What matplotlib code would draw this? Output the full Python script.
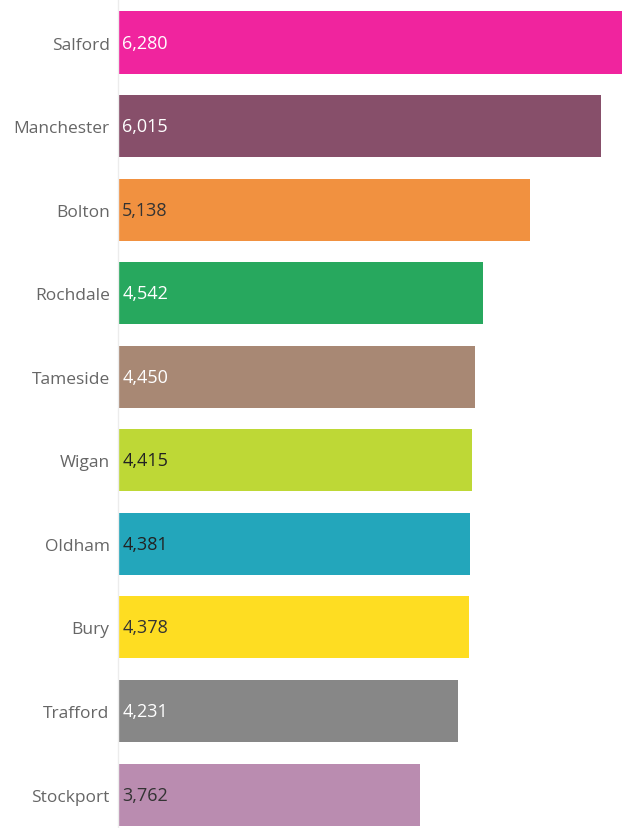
import matplotlib
matplotlib.use("Agg")
import matplotlib.pyplot as plt

categories = ["Salford", "Manchester", "Bolton", "Rochdale", "Tameside",
              "Wigan", "Oldham", "Bury", "Trafford", "Stockport"]
values = [6280, 6015, 5138, 4542, 4450, 4415, 4381, 4378, 4231, 3762]
colors = ["#F0249E", "#874F6A", "#F19140", "#27A85E", "#A88874",
          "#BED836", "#23A6BB", "#FEDD22", "#878787", "#BA8CB0"]
label_colors = ["white", "white", "#333333", "white", "white",
                "#222222", "#222222", "#333333", "white", "#333333"]

W, H = 622, 829
fig = plt.figure(figsize=(W / 100, H / 100), dpi=100)
left = 118 / W
ax = fig.add_axes([left, 0, 1 - left, 1])

pos = list(range(len(categories)))
ax.barh(pos, values, height=0.742, color=colors)

c0, step = 43.5, 83.56
ax.set_ylim((H - c0) / step, -c0 / step)
ax.set_xlim(0, max(values))

for i, (v, lc) in enumerate(zip(values, label_colors)):
    ax.annotate(f"{v:,}", xy=(0, i), xytext=(3, 0), textcoords="offset points",
                ha="left", va="center", color=lc, fontsize=13, family="Open Sans")

ax.set_yticks(pos)
ax.set_yticklabels(categories, fontsize=12.5, color="#666666", family="Open Sans")
ax.tick_params(axis="y", length=0, pad=6)
ax.set_xticks([])
for s in ["top", "right", "bottom"]:
    ax.spines[s].set_visible(False)
ax.spines["left"].set_color("#ececec")
ax.spines["left"].set_linewidth(1)

fig.savefig("out.png", dpi=100)
